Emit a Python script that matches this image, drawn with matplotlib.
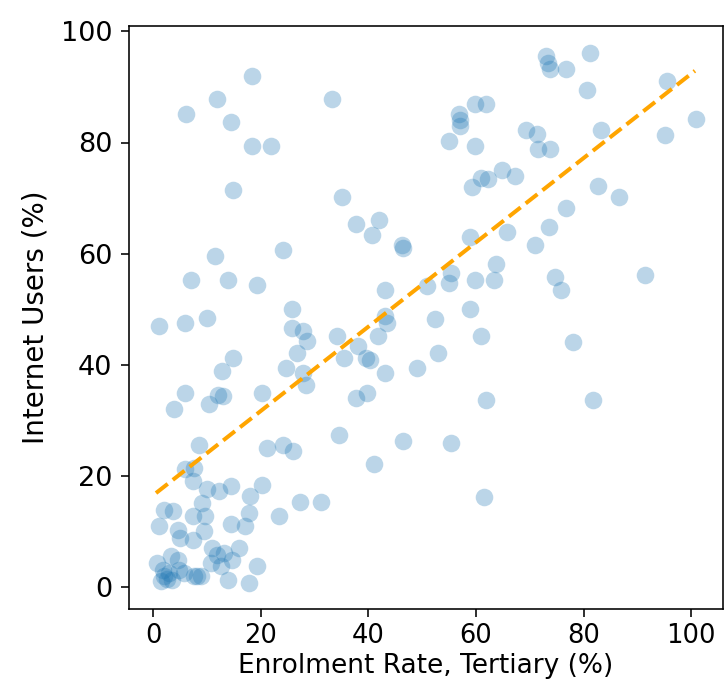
import numpy as np
import matplotlib
matplotlib.use("Agg")
import matplotlib.pyplot as plt

# Enrolment rate (tertiary, %) and Internet users (%)
enrolment = [
    18.4, 11.9, 33.2, 6.0, 14.4, 18.4, 21.9, 14.9, 35.1, 37.7, 42.0, 40.6, 46.2, 46.5,
    11.4, 24.2, 7.0, 13.9, 19.3, 43.1, 25.8, 50.8, 1.0, 5.9, 9.9, 43.1, 43.4,
    81.2, 73.1, 73.3, 73.8, 76.7, 80.7, 95.5, 100.9, 95.1, 59.9, 61.8, 56.8, 57.0, 57.0,
    55.0, 59.9, 69.3, 71.3, 71.6, 73.8, 83.2, 59.3, 61.0, 62.2, 64.9, 67.3, 82.7, 86.6,
    76.7, 73.6, 65.7, 58.9, 70.9, 63.8, 55.4, 55.0, 59.9, 63.4, 74.7, 75.8, 91.5, 58.9,
    52.3, 60.9, 53.0, 49.0, 78.1, 61.9, 81.7, 55.4, 61.4,
    25.8, 27.8, 28.6, 26.7, 24.7, 27.8, 28.3, 14.9, 12.8, 5.9, 3.9, 10.4, 12.0, 13.0,
    20.2, 34.1, 35.4, 38.1, 39.5, 40.2, 41.8, 43.1, 37.7, 39.7, 34.6, 46.5, 41.1, 8.5,
    5.9, 7.6, 7.3, 9.9, 12.2, 14.4, 20.2, 17.9, 21.2, 24.2, 26.0, 27.3, 31.2, 23.3,
    17.8, 17.0, 14.4, 9.0, 9.6, 7.3, 9.5, 2.0, 3.6, 1.1, 4.5, 5.0, 7.3, 11.0, 11.9,
    13.1, 14.7, 15.9, 10.7, 12.5, 19.3, 13.8, 17.8, 0.7, 3.3, 4.5,
    1.5, 2.0, 2.5, 3.0, 1.8, 3.5, 4.8, 5.7, 7.5, 8.2, 8.8,
]
internet = [
    91.9, 87.9, 87.9, 85.1, 83.7, 79.4, 79.4, 71.5, 70.2, 65.4, 66.0, 63.4, 61.5, 61.0,
    59.5, 60.6, 55.3, 55.3, 54.3, 53.4, 50.0, 54.1, 47.0, 47.5, 48.5, 48.7, 47.5,
    96.2, 95.6, 94.4, 93.3, 93.3, 89.4, 91.1, 84.2, 81.3, 87.0, 87.0, 85.1, 84.1, 83.0,
    80.3, 79.4, 82.2, 81.5, 78.8, 78.8, 82.2, 72.0, 73.7, 73.5, 75.0, 73.9, 72.1, 70.2,
    68.2, 64.8, 63.9, 63.0, 61.5, 58.2, 56.5, 54.7, 55.3, 55.2, 55.8, 53.4, 56.2, 50.0,
    48.2, 45.1, 42.2, 39.4, 44.1, 33.6, 33.6, 25.9, 16.2,
    46.6, 46.0, 44.2, 42.2, 39.4, 38.6, 36.4, 41.2, 38.8, 35.0, 32.1, 33.0, 34.6, 34.4,
    35.0, 45.1, 41.2, 43.3, 41.2, 40.9, 45.1, 38.5, 34.0, 35.0, 27.3, 26.3, 22.1, 25.5,
    21.3, 21.5, 19.0, 17.6, 17.2, 18.2, 18.3, 16.3, 25.0, 25.6, 24.4, 15.3, 15.3, 12.8,
    13.3, 10.9, 11.4, 15.1, 12.7, 12.7, 10.0, 13.9, 13.6, 10.9, 10.3, 8.8, 8.5, 7.0, 5.8,
    6.1, 4.9, 7.0, 4.3, 3.7, 3.7, 1.3, 0.8, 4.3, 5.5, 4.9,
    1.0, 2.0, 1.5, 2.5, 3.0, 1.2, 3.1, 2.5, 2.0, 2.0, 2.0,
]

# Trend line endpoints
trend_x = [0.5, 100.7]
trend_y = [16.9, 92.9]

x_ticks = [0, 20, 40, 60, 80, 100]
y_ticks = [0, 20, 40, 60, 80, 100]

plt.rcParams['font.family'] = ['DejaVu Sans']
fig = plt.figure(figsize=(7.24, 6.94), dpi=100)
ax = fig.add_axes([129 / 724, 85 / 694, 594 / 724, 583 / 694])

ax.scatter(enrolment, internet, s=160, color='tab:blue', alpha=0.3, linewidths=0)
ax.plot(trend_x, trend_y, color='orange', linestyle='--', linewidth=2.9)

ax.set_xticks(x_ticks)
ax.set_yticks(y_ticks)
ax.set_xlabel('Enrolment Rate, Tertiary (%)', fontsize=19, labelpad=3)
ax.set_ylabel('Internet Users (%)', fontsize=20, labelpad=8)
ax.tick_params(axis='x', labelsize=18.5, width=1.15, length=6, pad=4)
ax.tick_params(axis='y', labelsize=19.5, width=1.15, length=6, pad=6)
for sp in ax.spines.values():
    sp.set_linewidth(1.15)

fig.savefig('out.png', dpi=100)
